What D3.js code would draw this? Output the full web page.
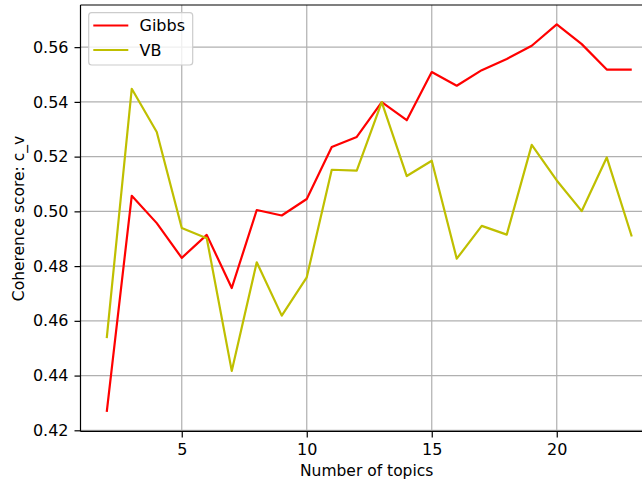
<!DOCTYPE html>
<html>
<head>
<meta charset="utf-8">
<script src="https://cdn.jsdelivr.net/npm/d3@7"></script>
<style>
  body { margin: 0; background: #fff; }
  svg { display: block; font-family: "DejaVu Sans", sans-serif; }
</style>
</head>
<body>
<div class="visual"></div>
<script>
// data
const topics = [2, 3, 4, 5, 6, 7, 8, 9, 10, 11, 12, 13, 14, 15, 16, 17, 18, 19, 20, 21, 22, 23];
const gibbs = [0.4267, 0.5057, 0.4957, 0.4830, 0.4914, 0.4720, 0.5005, 0.4985, 0.5045, 0.5235, 0.5272,
               0.5399, 0.5333, 0.5509, 0.5459, 0.5516, 0.5557, 0.5605, 0.5683, 0.5611, 0.5518, 0.5518];
const vb = [0.4537, 0.5448, 0.5290, 0.4939, 0.4902, 0.4417, 0.4814, 0.4619, 0.4759, 0.5152, 0.5149,
            0.5399, 0.5129, 0.5185, 0.4827, 0.4947, 0.4915, 0.5243, 0.5113, 0.5001, 0.5197, 0.4908];
const xTicks = [5, 10, 15, 20];
const yTicks = [0.42, 0.44, 0.46, 0.48, 0.50, 0.52, 0.54, 0.56];
const seriesNames = ["Gibbs", "VB"];
const seriesColors = ["#ff0000", "#bfbf00"];

//set constants
const width = 642, height = 480;
const plot = {left: 80.5, right: 658, top: 5, bottom: 431.4};

const svg = d3.select(".visual")
              .append("svg")
              .attr("width", width)
              .attr("height", height);

const xScale = d3.scaleLinear().domain([0.95, 24.05]).range([plot.left, plot.right]);
const yScale = d3.scaleLinear().domain([0.4196, 0.5754]).range([plot.bottom, plot.top]);

// grid
svg.append("g").selectAll("line")
  .data(xTicks).enter().append("line")
  .attr("x1", d => xScale(d)).attr("x2", d => xScale(d))
  .attr("y1", plot.top).attr("y2", plot.bottom)
  .attr("stroke", "#b0b0b0").attr("stroke-width", 1.2);
svg.append("g").selectAll("line")
  .data(yTicks).enter().append("line")
  .attr("x1", plot.left).attr("x2", plot.right)
  .attr("y1", d => yScale(d)).attr("y2", d => yScale(d))
  .attr("stroke", "#b0b0b0").attr("stroke-width", 1.2);

// lines
const line = d3.line().x((d, i) => xScale(topics[i])).y(d => yScale(d));
[gibbs, vb].forEach((s, k) => {
  svg.append("path")
    .datum(s)
    .attr("d", line)
    .attr("fill", "none")
    .attr("stroke", seriesColors[k])
    .attr("stroke-width", 2.2)
    .attr("stroke-linejoin", "round");
});

// axes
const xAxis = d3.axisBottom(xScale).tickValues(xTicks).tickSize(6).tickPadding(6).tickSizeOuter(0);
const yAxis = d3.axisLeft(yScale).tickValues(yTicks).tickFormat(d3.format(".2f")).tickSize(6).tickPadding(6).tickSizeOuter(0);
const gx = svg.append("g").attr("transform", "translate(0," + plot.bottom + ")").call(xAxis);
const gy = svg.append("g").attr("transform", "translate(" + plot.left + ",0)").call(yAxis);
[gx, gy].forEach(g => {
  g.select(".domain").remove();
  g.selectAll("line").attr("stroke", "#000").attr("stroke-width", 1.2);
  g.selectAll("text").attr("fill", "#000").style("font-size", "16px").style("font-family", "DejaVu Sans");
});

// spines
svg.append("line").attr("x1", plot.left).attr("x2", plot.left).attr("y1", plot.top).attr("y2", plot.bottom)
  .attr("stroke", "#000").attr("stroke-width", 1.2);
svg.append("line").attr("x1", plot.left).attr("x2", plot.right).attr("y1", plot.bottom).attr("y2", plot.bottom)
  .attr("stroke", "#000").attr("stroke-width", 1.2);
svg.append("line").attr("x1", plot.left).attr("x2", plot.right).attr("y1", plot.top).attr("y2", plot.top)
  .attr("stroke", "#000").attr("stroke-width", 1.2);

// labels
svg.append("text")
  .attr("x", 366.7).attr("y", 476)
  .attr("text-anchor", "middle")
  .style("font-size", "15.5px")
  .text("Number of topics");
svg.append("text")
  .attr("transform", "rotate(-90)")
  .attr("x", -218.5).attr("y", 24)
  .attr("text-anchor", "middle")
  .style("font-size", "15.5px")
  .text("Coherence score: c_v");

//legend
svg.append("rect")
  .attr("x", 88.7).attr("y", 12.7).attr("width", 104).attr("height", 52.3)
  .attr("rx", 3).attr("fill", "#fff").attr("fill-opacity", 0.8)
  .attr("stroke", "#cccccc").attr("stroke-width", 1.2);
const legend = svg.selectAll(".legend")
  .data(seriesNames).enter().append("g")
  .attr("class", "legend")
  .attr("transform", (d, i) => "translate(0," + (25.5 + i * 24.5) + ")");
legend.append("line")
  .attr("x1", 93.3).attr("x2", 128.3).attr("y1", 0).attr("y2", 0)
  .attr("stroke", (d, i) => seriesColors[i]).attr("stroke-width", 2.2);
legend.append("text")
  .attr("x", 139.5).attr("y", 5.5)
  .style("font-size", "16px")
  .text(d => d);
</script>
</body>
</html>
